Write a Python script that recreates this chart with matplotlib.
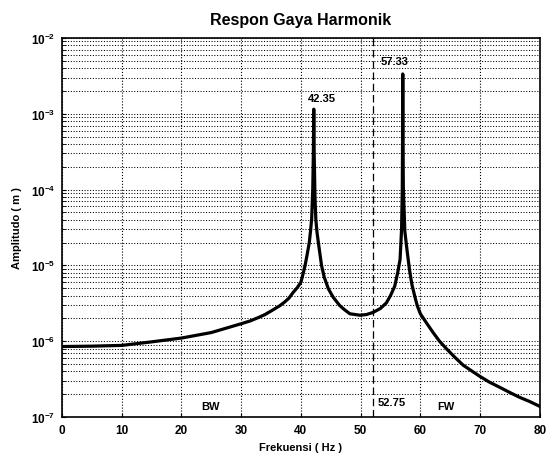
import matplotlib
matplotlib.use('Agg')
import matplotlib.pyplot as plt

#**************************************************#
# data

freq = [0, 5, 10, 15, 20, 25, 30, 31.5, 33, 34, 35, 36.5, 37.3, 38, 38.7,
        39.4, 40.0, 40.35, 40.7, 41.05, 41.4, 41.6, 41.8, 41.98, 42.08,
        42.15, 42.22, 42.35, 42.5, 42.7, 43.0, 43.45, 43.9, 44.6, 45.4,
        46.5, 47.3, 48.2, 49.9, 51.0, 52.1, 53.3, 54.3, 55.0, 55.7, 56.2,
        56.6, 56.85, 56.97, 57.01, 57.05, 57.09, 57.15, 57.4, 57.8, 58.2,
        58.6, 59.1, 59.5, 60.0, 61.0, 62.1, 63.2, 64.4, 65.8, 67.2, 69.8,
        71.5, 73.3, 75.0, 76.6, 78.3, 80]
amp = [8.5e-7, 8.6e-7, 8.8e-7, 9.8e-7, 1.1e-6, 1.3e-6, 1.7e-6, 1.85e-6,
       2.07e-6, 2.25e-6, 2.5e-6, 2.95e-6, 3.3e-6, 3.7e-6, 4.4e-6,
       5.1e-6, 6.0e-6, 7.7e-6, 1.0e-5, 1.4e-5, 2.0e-5, 2.8e-5, 4.1e-5,
       1.0e-4, 3.0e-4, 1.15e-3, 3.0e-4, 8.0e-5, 4.0e-5, 2.7e-5, 1.8e-5,
       1.0e-5, 7.0e-6, 4.9e-6, 3.8e-6, 2.95e-6, 2.6e-6, 2.3e-6, 2.2e-6,
       2.25e-6, 2.4e-6, 2.7e-6, 3.2e-6, 4.0e-6, 5.3e-6, 8.0e-6, 1.2e-5,
       3.0e-5, 1.0e-4, 4.0e-4, 3.35e-3, 4.0e-4, 1.0e-4, 2.8e-5, 1.5e-5,
       8.5e-6, 5.5e-6, 3.8e-6, 2.9e-6, 2.3e-6, 1.75e-6, 1.31e-6, 1.0e-6,
       7.9e-7, 6.1e-7, 4.8e-7, 3.5e-7, 2.9e-7, 2.46e-7, 2.1e-7, 1.82e-7,
       1.6e-7, 1.38e-7]

xticks = [0, 10, 20, 30, 40, 50, 60, 70, 80]
yticks = [1e-7, 1e-6, 1e-5, 1e-4, 1e-3, 1e-2]
ytick_labels = [r'$10^{-7}$', r'$10^{-6}$', r'$10^{-5}$', r'$10^{-4}$',
                r'$10^{-3}$', r'$10^{-2}$']

peak_labels = ['42.35', '57.33']
peak_label_pos = [(43.45, 1.6e-3), (55.6, 5.0e-3)]
split_freq = 52.0   # dashed line drawn at 52.75 mark

#**************************************************#
# figure

plt.rcParams['font.family'] = ['Liberation Sans', 'DejaVu Sans']
plt.rcParams['font.weight'] = 'bold'
plt.rcParams['mathtext.fontset'] = 'custom'
plt.rcParams['mathtext.rm'] = 'Liberation Sans:bold'
plt.rcParams['mathtext.it'] = 'Liberation Sans:bold'
plt.rcParams['mathtext.bf'] = 'Liberation Sans:bold'

fig = plt.figure(figsize=(5.55, 4.6), dpi=100)
ax = fig.add_axes([0.1117, 0.0913, 0.861, 0.824])

ax.semilogy(freq, amp, color='k', lw=2.3, solid_joinstyle='round')

ax.set_xlim(0, 80)
ax.set_ylim(1e-7, 1e-2)
ax.set_xticks(xticks)
ax.set_xticklabels([str(t) for t in xticks], fontsize=8.5, fontweight='bold')
ax.set_yticks(yticks)
ax.set_yticklabels(ytick_labels, fontsize=8.5)
ax.tick_params(direction='in', which='both', length=3, pad=5)

# grid
ax.grid(True, which='major', axis='x', color='k', ls=':', lw=0.8)
ax.grid(True, which='both', axis='y', color='k', ls=':', lw=0.75)

ax.axvline(split_freq, color='k', ls=(0, (6, 3)), lw=0.9)

for s, (px, py) in zip(peak_labels, peak_label_pos):
    ax.text(px, py, s, ha='center', va='center', fontsize=8, fontweight='bold')

ax.text(52.9, 1.6e-7, '52.75', ha='left', va='center', fontsize=8,
        fontweight='bold')
ax.text(24.9, 1.4e-7, 'BW', ha='center', va='center', fontsize=8,
        fontweight='bold')
ax.text(64.3, 1.4e-7, 'FW', ha='center', va='center', fontsize=8,
        fontweight='bold')

for sp in ax.spines.values():
    sp.set_linewidth(1.2)

ax.set_title('Respon Gaya Harmonik', fontsize=11.5, fontweight='bold', pad=10)
ax.set_xlabel('Frekuensi ( Hz )', fontsize=8, fontweight='bold', labelpad=4)
ax.set_ylabel('Amplitudo ( m )', fontsize=8, fontweight='bold', labelpad=6)

fig.savefig('out.png', dpi=100)
